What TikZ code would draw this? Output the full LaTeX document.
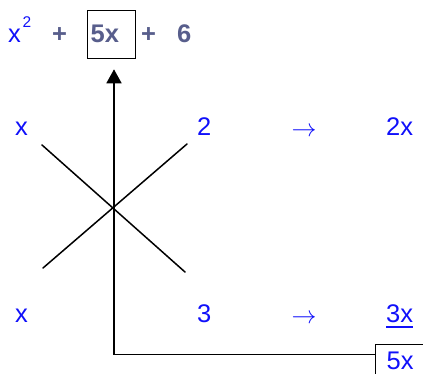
\documentclass[tikz,border=0pt]{standalone}
\usepackage{fontspec}
\setmainfont{Liberation Sans}
\usetikzlibrary{arrows.meta}
\definecolor{tblue}{RGB}{16,16,250}
\definecolor{tgray}{RGB}{88,94,140}
\tikzset{
  txt/.style={inner sep=0pt, anchor=base west, font=\fontsize{25.5}{30}\selectfont},
  bl/.style={txt, text=tblue},
  gr/.style={txt, text=tgray, font=\fontsize{25.5}{30}\selectfont\bfseries},
  ar/.style={txt, text=tblue, font=\fontsize{25.5}{30}\selectfont},
  boxed/.style={draw, line width=1.3pt, inner sep=0pt, anchor=north west},
  cross/.style={line width=1.5pt, line cap=round},
  conn/.style={line width=1.7pt}
}
\begin{document}
\begin{tikzpicture}[x=1pt,y=-1pt]
\useasboundingbox (0,0) rectangle (423,374);
% top expression
\node[bl] (x2) at (8,42.7) {x};
\node[txt, text=tblue, font=\fontsize{15.5}{18}\selectfont] (sup) at (22.5,27.5) {2};
\node[gr] (p1) at (52,42.7) {+};
\node[boxed, minimum width=48pt, minimum height=48pt] (b1) at (87,10) {};
\node[gr] (t5x) at (90.5,42.7) {5x};
\node[gr] (p2) at (141,42.7) {+};
\node[gr] (six) at (177,42.7) {6};
% row 1
\node[bl] (r1a) at (15,135.7) {x};
\node[bl] (r1b) at (197,135.7) {2};
\node[ar] (r1c) at (291.5,136.5) {$\rightarrow$};
\node[bl] (r1d) at (386,135.7) {2x};
% row 2
\node[bl] (r2a) at (15,322.3) {x};
\node[bl] (r2b) at (197,322.3) {3};
\node[ar] (r2c) at (291.5,323.1) {$\rightarrow$};
\node[bl] (r2d) at (386,322.3) {3x};
\draw[tblue, line width=2pt] (r2d.base west) ++(0,5) -- ++(27,0);
% bottom box
\node[boxed, minimum width=60pt, minimum height=45pt] (b2) at (374.5,343.5) {};
\node[bl] (t5xb) at (386.5,369.5) {5x};
% cross
\draw[cross] (42,145) -- (185,272);
\draw[cross] (187,144) -- (43,268);
% connector
\coordinate (corner) at (114,354.5);
\draw[conn, -{Triangle[width=15pt,length=14pt]}, shorten >=10pt]
  (b2.west |- corner) -- (corner) -- (corner |- b1.south);
\end{tikzpicture}
\end{document}
